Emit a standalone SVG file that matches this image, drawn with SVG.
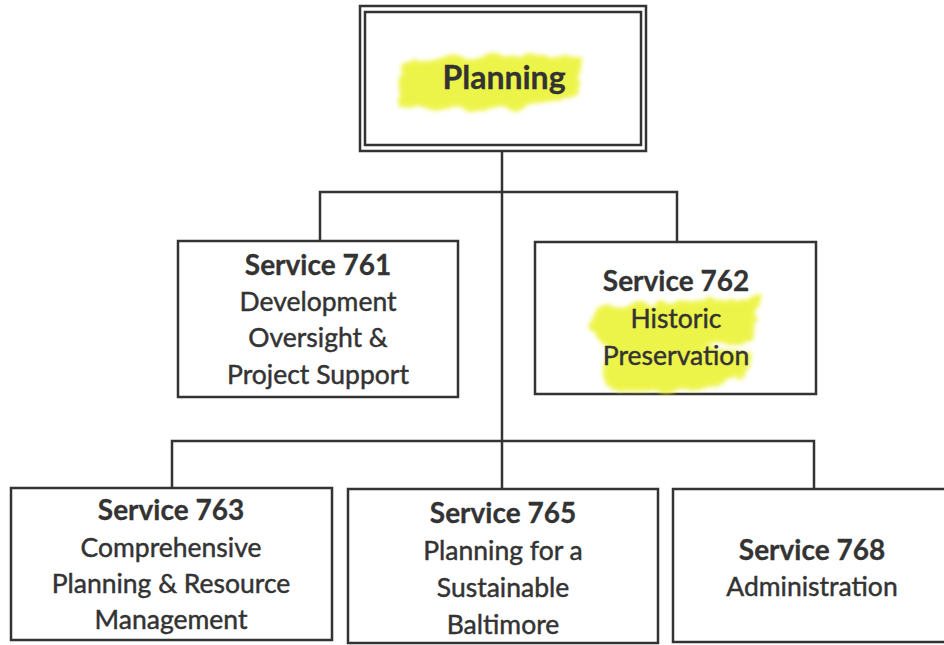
<svg xmlns="http://www.w3.org/2000/svg" width="944" height="645" viewBox="0 0 944 645">
<style>
.box{fill:#fff;stroke:#333;stroke-width:2.5}
.con{fill:none;stroke:#333;stroke-width:2.5}
text{font-family:Lato,"Liberation Sans",sans-serif;font-size:26.5px;fill:#333;stroke:#333;stroke-width:0.45;text-anchor:middle}
.b{font-weight:bold;font-size:28px;stroke-width:0.3}
.hl{fill:#e9f21c;opacity:0.8;filter:url(#rough)}
</style>
<defs>
<filter id="rough" x="-15%" y="-25%" width="130%" height="150%">
<feTurbulence type="fractalNoise" baseFrequency="0.06" numOctaves="2" seed="3" result="n"/>
<feDisplacementMap in="SourceGraphic" in2="n" scale="14" xChannelSelector="R" yChannelSelector="G" result="d"/>
<feGaussianBlur in="d" stdDeviation="2"/>
</filter>
</defs>
<rect width="944" height="645" fill="#fff"/>
<g id="connectors">
<line class="con" x1="502" y1="151" x2="502" y2="489"/>
<polyline class="con" points="320,240 320,192 677,192 677,242"/>
<polyline class="con" points="172,488 172,441 814,441 814,489"/>
</g>
<g id="planning">
<rect class="box" x="360" y="6" width="286" height="145"/>
<rect class="box" x="365" y="12" width="276" height="133" stroke-width="2"/>
<path class="hl" d="M404,62 C430,54 470,58 520,55 C550,52 572,56 582,58 L578,92 C560,104 520,110 470,110 C440,112 412,110 400,104 C396,90 398,76 404,62 Z"/>
<text class="b" x="504" y="89" style="font-size:32px">Planning</text>
</g>
<g id="s761">
<rect class="box" x="178" y="241" width="280" height="156"/>
<text class="b" x="318" y="275">Service 761</text>
<text x="318" y="311">Development</text>
<text x="318" y="347">Oversight &amp;</text>
<text x="318" y="384">Project Support</text>
</g>
<g id="s762">
<rect class="box" x="535" y="242" width="281" height="152"/>
<path class="hl" d="M594,312 C620,300 680,302 758,298 L754,338 C740,344 720,344 700,348 L752,352 L748,374 C720,388 650,394 612,390 L600,372 L612,350 C602,346 596,338 590,330 Z"/>
<text class="b" x="676" y="291">Service 762</text>
<text x="676" y="328">Historic</text>
<text x="676" y="365">Preservation</text>
</g>
<g id="s763">
<rect class="box" x="11" y="488" width="321" height="152"/>
<text class="b" x="171" y="520">Service 763</text>
<text x="171" y="557">Comprehensive</text>
<text x="171" y="593">Planning &amp; Resource</text>
<text x="171" y="629">Management</text>
</g>
<g id="s765">
<rect class="box" x="348" y="489" width="310" height="154"/>
<text class="b" x="503" y="523">Service 765</text>
<text x="503" y="560">Planning for a</text>
<text x="503" y="597">Sustainable</text>
<text x="503" y="634">Baltimore</text>
</g>
<g id="s768">
<rect class="box" x="673" y="489" width="273" height="153"/>
<text class="b" x="812" y="560">Service 768</text>
<text x="812" y="596">Administration</text>
</g>
</svg>
